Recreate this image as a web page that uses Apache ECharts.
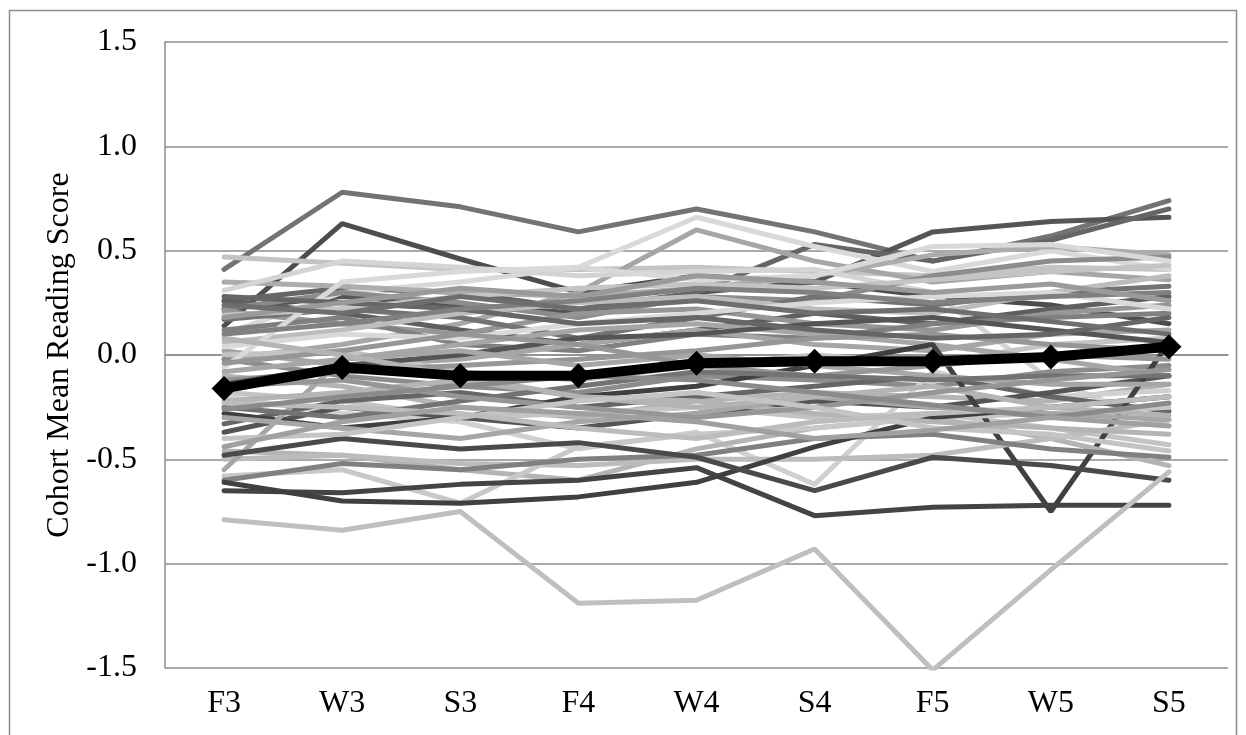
<!DOCTYPE html>
<html>
<head>
<meta charset="utf-8">
<style>
  html, body { margin: 0; padding: 0; background: #fff; }
  #chart { width: 1246px; height: 735px; }
</style>
<script src="https://cdn.jsdelivr.net/npm/echarts@6/dist/echarts.min.js"></script>
</head>
<body>
<div id="chart"></div>
<script>
const waves = ['F3', 'W3', 'S3', 'F4', 'W4', 'S4', 'F5', 'W5', 'S5']
const yTicks = [-1.5, -1.0, -0.5, 0.0, 0.5, 1.0, 1.5]

// one row per cohort
const cohorts = [
  [0.41, 0.78, 0.71, 0.59, 0.70, 0.59, 0.45, 0.57, 0.74],
  [0.14, 0.63, 0.46, 0.30, 0.38, 0.35, 0.28, 0.24, 0.15],
  [0.22, 0.28, 0.24, 0.20, 0.30, 0.35, 0.59, 0.64, 0.66],
  [0.26, 0.32, 0.30, 0.22, 0.30, 0.53, 0.45, 0.55, 0.70],
  [0.47, 0.44, 0.41, 0.41, 0.42, 0.40, 0.38, 0.42, 0.41],
  [0.10, 0.30, 0.35, 0.42, 0.66, 0.52, 0.40, 0.50, 0.41],
  [-0.02, 0.05, 0.15, 0.30, 0.60, 0.45, 0.35, 0.40, 0.36],
  [0.35, 0.33, 0.30, 0.28, 0.32, 0.38, 0.48, 0.52, 0.48],
  [0.31, 0.45, 0.42, 0.38, 0.40, 0.41, 0.30, -0.12, -0.34],
  [0.26, 0.20, 0.12, 0.05, 0.12, 0.20, 0.15, 0.22, 0.28],
  [0.22, 0.30, 0.25, 0.18, 0.28, 0.26, 0.38, 0.45, 0.47],
  [0.21, 0.15, 0.10, 0.20, 0.22, 0.15, 0.12, 0.20, 0.24],
  [0.17, 0.22, 0.18, 0.08, 0.18, 0.28, 0.24, 0.30, 0.33],
  [0.19, 0.22, 0.28, 0.32, 0.34, 0.32, 0.36, 0.40, 0.43],
  [0.12, 0.18, 0.05, 0.02, 0.10, 0.08, 0.15, 0.18, 0.20],
  [0.06, 0.12, 0.20, 0.25, 0.28, 0.22, 0.20, 0.30, 0.38],
  [0.02, -0.05, -0.02, 0.05, 0.12, 0.05, 0.02, 0.10, 0.12],
  [0.00, 0.02, -0.08, -0.12, -0.05, 0.00, -0.04, 0.05, 0.08],
  [-0.02, -0.10, -0.15, -0.18, -0.10, -0.12, -0.15, -0.08, -0.05],
  [-0.06, 0.35, 0.40, 0.42, 0.36, 0.38, 0.52, 0.53, 0.45],
  [-0.08, -0.02, 0.05, 0.12, 0.15, 0.10, 0.05, -0.02, -0.10],
  [-0.10, -0.15, -0.25, -0.30, -0.22, -0.18, -0.20, -0.22, -0.14],
  [-0.12, -0.08, -0.05, -0.02, 0.02, 0.08, 0.10, 0.05, 0.02],
  [-0.14, -0.05, 0.00, 0.08, 0.10, 0.15, 0.18, 0.12, 0.06],
  [-0.18, -0.22, -0.30, -0.28, -0.25, -0.30, -0.28, -0.35, -0.43],
  [-0.20, -0.28, -0.32, -0.45, -0.37, -0.62, -0.08, -0.20, -0.17],
  [-0.33, -0.22, -0.18, -0.25, -0.20, -0.15, -0.10, -0.20, -0.27],
  [-0.37, -0.25, -0.30, -0.35, -0.28, -0.22, -0.25, -0.18, -0.10],
  [-0.28, -0.35, -0.30, -0.20, -0.15, -0.05, 0.05, -0.75, 0.06],
  [-0.46, -0.48, -0.55, -0.60, -0.45, -0.35, -0.30, -0.40, -0.53],
  [-0.50, -0.48, -0.52, -0.53, -0.50, -0.50, -0.48, -0.40, -0.31],
  [-0.55, -0.02, 0.02, -0.05, 0.00, -0.05, -0.10, -0.14, -0.14],
  [-0.58, -0.55, -0.71, -0.44, -0.38, -0.35, -0.30, -0.28, -0.25],
  [-0.60, -0.52, -0.55, -0.50, -0.48, -0.40, -0.38, -0.45, -0.49],
  [-0.65, -0.66, -0.62, -0.60, -0.54, -0.77, -0.73, -0.72, -0.72],
  [-0.61, -0.70, -0.71, -0.68, -0.61, -0.44, -0.30, -0.25, -0.20],
  [-0.48, -0.40, -0.45, -0.42, -0.49, -0.65, -0.49, -0.53, -0.60],
  [-0.79, -0.84, -0.75, -1.19, -1.175, -0.93, -1.51, -1.03, -0.56],
  [0.04, 0.10, 0.08, 0.15, 0.20, 0.25, 0.28, 0.30, 0.22],
  [-0.04, 0.02, 0.10, 0.05, -0.05, -0.10, -0.05, 0.00, -0.02],
  [-0.22, -0.18, -0.12, -0.20, -0.22, -0.28, -0.32, -0.35, -0.38],
  [-0.25, -0.30, -0.22, -0.15, -0.08, -0.10, -0.12, -0.10, -0.10],
  [-0.30, -0.35, -0.40, -0.32, -0.28, -0.20, -0.25, -0.28, -0.31],
  [0.28, 0.25, 0.22, 0.15, 0.18, 0.12, 0.08, 0.10, 0.18],
  [0.08, 0.00, -0.10, -0.20, -0.25, -0.20, -0.15, -0.25, -0.29],
  [-0.15, -0.12, -0.20, -0.25, -0.30, -0.25, -0.18, -0.12, -0.07],
  [-0.40, -0.38, -0.30, -0.22, -0.18, -0.25, -0.35, -0.38, -0.46],
  [0.10, 0.15, 0.22, 0.26, 0.32, 0.30, 0.25, 0.28, 0.30],
  [-0.23, -0.25, -0.28, -0.35, -0.40, -0.32, -0.28, -0.25, -0.20],
  [0.18, 0.25, 0.32, 0.28, 0.38, 0.35, 0.30, 0.34, 0.26],
  [-0.26, -0.20, -0.15, -0.10, -0.12, -0.18, -0.24, -0.30, -0.23],
  [0.24, 0.20, 0.28, 0.22, 0.26, 0.20, 0.22, 0.16, 0.10],
  [-0.44, -0.32, -0.25, -0.28, -0.32, -0.40, -0.36, -0.30, -0.34]
]

const cohortMean = [-0.16, -0.06, -0.10, -0.10, -0.04, -0.03, -0.03, -0.01, 0.04]

// shade of each cohort line
const lineGrays = [
  '#737373', '#4d4d4d', '#555555', '#666666', '#c4c4c4', '#d9d9d9', '#a6a6a6', '#acacac',
  '#d4d4d4', '#5f5f5f', '#8c8c8c', '#969696', '#737373', '#c4c4c4', '#808080', '#bcbcbc',
  '#a6a6a6', '#c4c4c4', '#8c8c8c', '#d9d9d9', '#a6a6a6', '#b4b4b4', '#969696', '#555555',
  '#c4c4c4', '#d0d0d0', '#666666', '#555555', '#404040', '#b4b4b4', '#bcbcbc', '#a6a6a6',
  '#c8c8c8', '#808080', '#444444', '#404040', '#4a4a4a', '#bfbfbf', '#d9d9d9', '#969696',
  '#b4b4b4', '#737373', '#a6a6a6', '#666666', '#b4b4b4', '#969696', '#c4c4c4', '#808080',
  '#bcbcbc', '#9a9a9a', '#8a8a8a', '#6e6e6e', '#a0a0a0'
]

const serif = "'Liberation Serif', 'Times New Roman', serif"
const gridGray = '#8c8c8c'

const chart = echarts.init(document.getElementById('chart'))

const series = cohorts.map((vals, i) => ({
  name: 'cohort' + (i + 1),
  type: 'line',
  data: vals,
  showSymbol: false,
  silent: true,
  lineStyle: { color: lineGrays[i % lineGrays.length], width: 5, cap: 'round' },
  z: 2
}))

series.push({
  name: 'Mean',
  type: 'line',
  data: cohortMean,
  symbol: 'diamond',
  symbolSize: 25,
  itemStyle: { color: '#000' },
  lineStyle: { color: '#000', width: 10 },
  z: 5
})

const option = {
  animation: false,
  backgroundColor: '#fff',
  graphic: [{
    type: 'rect',
    shape: { x: 9.5, y: 10.5, width: 1227, height: 760 },
    style: { fill: 'none', stroke: gridGray, lineWidth: 1.5 },
    silent: true
  }],
  grid: { left: 165, right: 18, top: 42, bottom: 67, containLabel: false },
  xAxis: {
    type: 'category',
    data: waves,
    boundaryGap: true,
    axisLine: { lineStyle: { color: gridGray, width: 1.5 } },
    axisTick: { show: false },
    axisLabel: { color: '#000', fontFamily: serif, fontSize: 32, margin: 20 }
  },
  yAxis: {
    type: 'value',
    min: -1.5,
    max: 1.5,
    interval: 0.5,
    name: 'Cohort Mean Reading Score',
    nameLocation: 'middle',
    nameGap: 88,
    nameTextStyle: { color: '#000', fontFamily: serif, fontSize: 32 },
    axisLine: { show: true, lineStyle: { color: gridGray, width: 1.5 } },
    axisTick: { show: false },
    axisLabel: {
      color: '#000',
      fontFamily: serif,
      fontSize: 32,
      margin: 28,
      formatter: (v) => {
        const t = yTicks.find(k => Math.abs(k - v) < 1e-9)
        return (t !== undefined ? t : v).toFixed(1)
      }
    },
    splitLine: { lineStyle: { color: gridGray, width: 1.5 } }
  },
  series
}

option && chart.setOption(option)
</script>
</body>
</html>
